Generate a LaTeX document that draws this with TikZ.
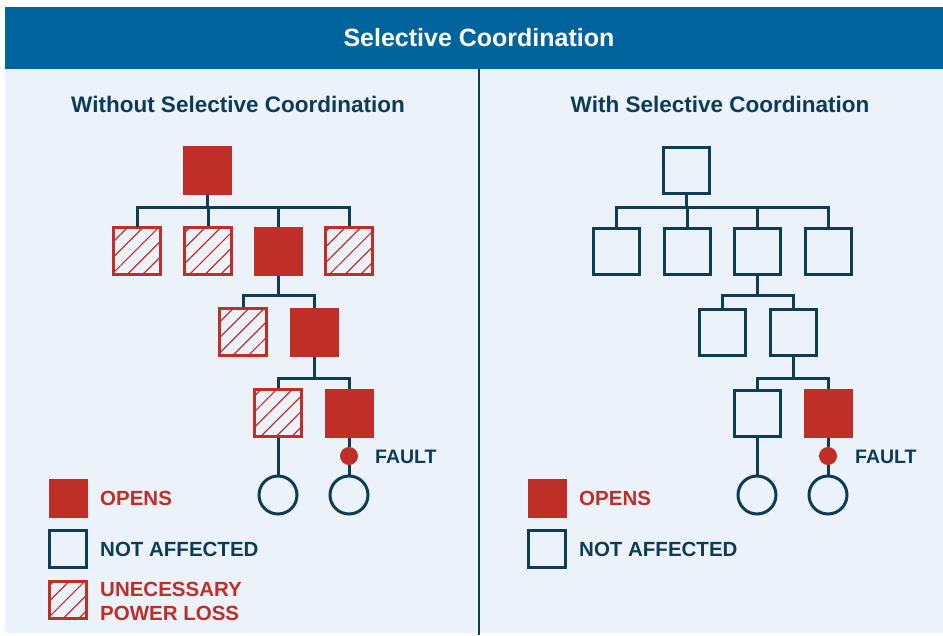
\documentclass[tikz,border=0pt]{standalone}
\usepackage{fontspec}
\setmainfont{Liberation Sans}
\usetikzlibrary{patterns.meta}
\definecolor{hdr}{RGB}{1,100,156}
\definecolor{panel}{RGB}{235,242,250}
\definecolor{navy}{RGB}{14,60,86}
\definecolor{fred}{RGB}{192,46,40}
\tikzset{
  opens/.style={rectangle, fill=fred, draw=fred, line width=1pt, minimum size=48pt, inner sep=0pt},
  okbox/.style={rectangle, draw=navy, fill=panel, line width=3pt, minimum size=46pt, inner sep=0pt},
  lossbox/.style={rectangle, draw=fred, line width=2.6pt, minimum size=46.5pt, inner sep=0pt,
     pattern={Lines[angle=45,distance=11pt,line width=1.2pt]}, pattern color=fred},
  small/.style={minimum size=38pt},
  smallok/.style={minimum size=37.5pt},
  load/.style={circle, draw=navy, line width=3pt, minimum size=38pt, inner sep=0pt},
  faultdot/.style={circle, fill=fred, minimum size=18pt, inner sep=0pt},
  wire/.style={draw=navy, line width=3pt},
  lbl/.style={font=\fontsize{20.5}{24}\selectfont\bfseries, inner sep=0pt, anchor=west, align=left},
  flbl/.style={font=\fontsize{19.5}{24}\selectfont\bfseries, inner sep=0pt, anchor=west},
  heading/.style={font=\fontsize{22.5}{26}\selectfont\bfseries, text=navy, inner sep=0pt},
}
\begin{document}
\begin{tikzpicture}[x=1pt,y=-1pt]
\useasboundingbox (0,0) rectangle (943,635);
\fill[white] (0,0) rectangle (943,635);
\fill[panel] (5,69) rectangle (943,633);
\fill[hdr] (5,7) rectangle (943,69);
\node[font=\fontsize{25}{30}\selectfont\bfseries, text=white, inner sep=0pt] (title) at (479,38) {Selective Coordination};
\draw[navy, line width=2.5pt] (479,69) -- (479,635);

\coordinate (busA) at (0,207);
\coordinate (busB) at (0,295);
\coordinate (busC) at (0,378);

% ---------- left panel ----------
\node[heading] (hl) at (238,104) {Without Selective Coordination};
\node[opens] (L0) at (207,170) {};
\node[lossbox] (L1a) at (137,251) {};
\node[lossbox] (L1b) at (208,251) {};
\node[opens] (L1c) at (278,251) {};
\node[lossbox] (L1d) at (349,251) {};
\node[lossbox] (L2a) at (243,332) {};
\node[opens] (L2b) at (314,332) {};
\node[lossbox] (L3a) at (278,413) {};
\node[opens] (L3b) at (349,413) {};
\node[faultdot] (Lf) at (349,456) {};
\node[load] (L4a) at (278,495) {};
\node[load] (L4b) at (349,495) {};
\node[flbl, text=navy] (Lft) at (375,457) {FAULT};

\foreach \c in {L1a,L1b,L1c,L1d}
  \draw[wire] (L0.south) -- (L0.south |- busA) -| (\c.north);
\foreach \c in {L2a,L2b}
  \draw[wire] (L1c.south) -- (L1c.south |- busB) -| (\c.north);
\foreach \c in {L3a,L3b}
  \draw[wire] (L2b.south) -- (L2b.south |- busC) -| (\c.north);
\draw[wire] (L3a.south) -- (L4a.north);
\draw[wire] (L3b.south) -- (Lf.north);
\draw[wire] (Lf.south) -- (L4b.north);

% legend left
\node[opens, small] (LgA) at (68,498) {};
\node[okbox, smallok] (LgB) at (68,549) {};
\node[lossbox, smallok] (LgC) at (68,600) {};
\node[lbl, text=fred] (LtA) at (100,498) {OPENS};
\node[lbl, text=navy] (LtB) at (100,549) {NOT AFFECTED};
\node[lbl, text=fred] (LtC) at (100,601) {UNECESSARY\\POWER LOSS};

% ---------- right panel ----------
\node[heading] (hr) at (720,104) {With Selective Coordination};
\node[okbox] (R0) at (686,170) {};
\node[okbox] (R1a) at (616,251) {};
\node[okbox] (R1b) at (687,251) {};
\node[okbox] (R1c) at (757,251) {};
\node[okbox] (R1d) at (828,251) {};
\node[okbox] (R2a) at (722,332) {};
\node[okbox] (R2b) at (793,332) {};
\node[okbox] (R3a) at (757,413) {};
\node[opens] (R3b) at (828,413) {};
\node[faultdot] (Rf) at (828,456) {};
\node[load] (R4a) at (757,495) {};
\node[load] (R4b) at (828,495) {};
\node[flbl, text=navy] (Rft) at (855,457) {FAULT};

\foreach \c in {R1a,R1b,R1c,R1d}
  \draw[wire] (R0.south) -- (R0.south |- busA) -| (\c.north);
\foreach \c in {R2a,R2b}
  \draw[wire] (R1c.south) -- (R1c.south |- busB) -| (\c.north);
\foreach \c in {R3a,R3b}
  \draw[wire] (R2b.south) -- (R2b.south |- busC) -| (\c.north);
\draw[wire] (R3a.south) -- (R4a.north);
\draw[wire] (R3b.south) -- (Rf.north);
\draw[wire] (Rf.south) -- (R4b.north);

% legend right
\node[opens, small] (RgA) at (547,498) {};
\node[okbox, smallok] (RgB) at (547,549) {};
\node[lbl, text=fred] (RtA) at (579,498) {OPENS};
\node[lbl, text=navy] (RtB) at (579,549) {NOT AFFECTED};
\end{tikzpicture}
\end{document}
